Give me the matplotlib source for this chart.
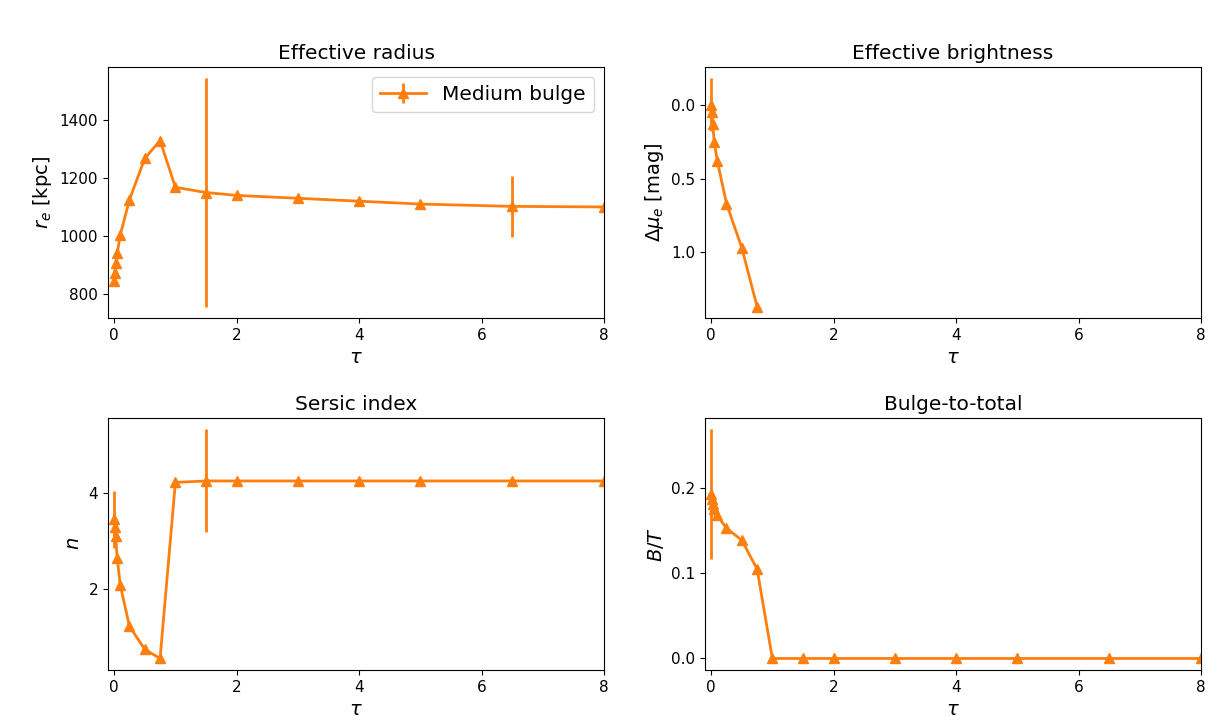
import matplotlib
matplotlib.use("Agg")
import matplotlib.pyplot as plt
import numpy as np

tau = [0, 0.01, 0.025, 0.05, 0.1, 0.25, 0.5, 0.75, 1, 1.5, 2, 3, 4, 5, 6.5, 8]

re_vals = [845, 870, 905, 940, 1003, 1125, 1268, 1330, 1168, 1150, 1140, 1130, 1120, 1110, 1102, 1100]
re_err = [0, 0, 0, 0, 0, 0, 0, 0, 0, 395, 0, 0, 0, 0, 105, 0]

mu_tau = [0, 0.01, 0.025, 0.05, 0.1, 0.25, 0.5, 0.75]
mu_vals = [0.0, 0.05, 0.13, 0.25, 0.38, 0.67, 0.97, 1.37]
mu_err = [0.18, 0, 0, 0, 0, 0, 0, 0]

n_vals = [3.45, 3.3, 3.1, 2.65, 2.08, 1.23, 0.75, 0.56, 4.22, 4.25, 4.25, 4.25, 4.25, 4.25, 4.25, 4.25]
n_err = [0.6, 0, 0, 0, 0, 0, 0, 0, 0, 1.07, 0, 0, 0, 0, 0, 0]

bt_vals = [0.193, 0.187, 0.181, 0.175, 0.168, 0.153, 0.139, 0.105, 0.0, 0.0, 0.0, 0.0, 0.0, 0.0, 0.0, 0.0]
bt_err = [0.076, 0, 0, 0, 0, 0, 0, 0, 0, 0, 0, 0, 0, 0, 0, 0]

label = "Medium bulge"
color = "#ff7f0e"

fig = plt.figure(figsize=(12.11, 7.27), dpi=100)
positions = [
    [0.0892, 0.5626, 0.4096, 0.3452],
    [0.5822, 0.5626, 0.4095, 0.3452],
    [0.0892, 0.0785, 0.4096, 0.3465],
    [0.5822, 0.0785, 0.4095, 0.3465],
]
axes = [fig.add_axes(p) for p in positions]

kw = dict(color=color, marker="^", markersize=7.5, linewidth=2, elinewidth=2, capsize=0)

tfs = 14.5
lfs = 14

ax = axes[0]
ax.errorbar(tau, re_vals, yerr=re_err, label=label, **kw)
ax.set_title("Effective radius", fontsize=tfs)
ax.set_ylabel(r"$r_e$ [kpc]", fontsize=lfs)
ax.legend(loc="upper right", fontsize=14.5, handlelength=2.3)
ax.set_yticks([800, 1000, 1200, 1400])

ax = axes[1]
ax.errorbar(mu_tau, mu_vals, yerr=mu_err, **kw)
ax.set_title("Effective brightness", fontsize=tfs)
ax.set_ylabel(r"$\Delta\mu_e$ [mag]", fontsize=lfs)
ax.invert_yaxis()

ax = axes[2]
ax.errorbar(tau, n_vals, yerr=n_err, **kw)
ax.set_title("Sersic index", fontsize=tfs)
ax.set_ylabel(r"$n$", fontsize=lfs)

ax = axes[3]
ax.errorbar(tau, bt_vals, yerr=bt_err, **kw)
ax.set_title("Bulge-to-total", fontsize=tfs)
ax.set_ylabel(r"$B/T$", fontsize=lfs)

for ax in axes:
    ax.set_xlim(-0.1, 8)
    ax.set_xticks([0, 2, 4, 6, 8])
    ax.set_xlabel(r"$\tau$", fontsize=lfs)
    ax.tick_params(labelsize=11)

axes[1].set_yticks([0.0, 0.5, 1.0])
axes[2].set_yticks([2, 4])
axes[3].set_yticks([0.0, 0.1, 0.2])

fig.savefig("out.png", dpi=100)
